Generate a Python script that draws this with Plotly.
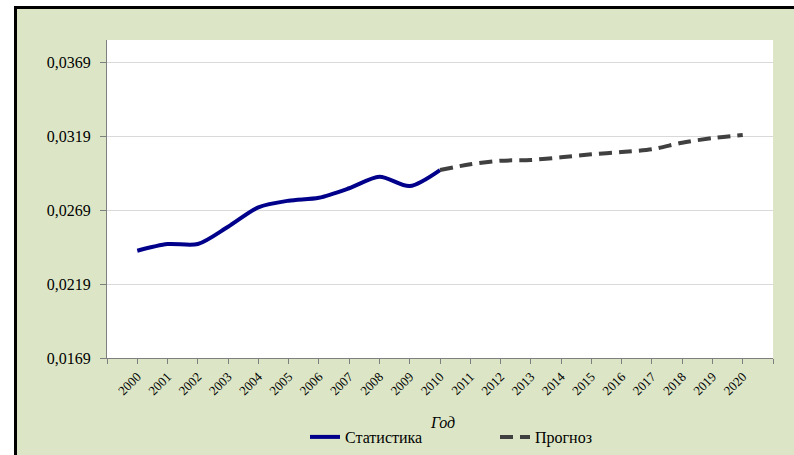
import plotly.graph_objects as go

years_stat = list(range(2000, 2011))
stat_values = [0.02415, 0.0246, 0.0246, 0.02577, 0.02708, 0.02753, 0.02773, 0.02837, 0.02915, 0.02852, 0.0296]
years_fore = list(range(2010, 2021))
fore_values = [0.0296, 0.02999, 0.03023, 0.03028, 0.03046, 0.03066, 0.03082, 0.0310, 0.03145, 0.03176, 0.03197]
y_ticks = [0.0169, 0.0219, 0.0269, 0.0319, 0.0369]
x_ticks = list(range(1999, 2022))
x_labels = ["" if (y < 2000 or y > 2020) else str(y) for y in x_ticks]

SERIF = "Liberation Serif, Times New Roman, serif"
GREEN = "#dce6c6"
fig = go.Figure()
fig.add_trace(go.Scatter(x=years_stat, y=stat_values, mode="lines", name="Статистика",
                         line=dict(color="#00008b", width=4, shape="spline", smoothing=0.8)))
fig.add_trace(go.Scatter(x=years_fore, y=fore_values, mode="lines", name="Прогноз",
                         line=dict(color="#404040", width=4, dash="13px,7px", shape="spline", smoothing=0.8)))

L, R, T, B = 107, 21, 40, 97
W, H = 794, 455
pw, ph = W - L - R, H - T - B
def px(x): return (x - L) / pw
def py(y): return (H - B - y) / ph

shapes = [
    dict(type="rect", xref="paper", yref="paper", x0=px(0), x1=px(W), y0=py(6), y1=py(0), fillcolor="white", line_width=0, layer="below"),
    dict(type="rect", xref="paper", yref="paper", x0=px(0), x1=px(14), y0=py(H), y1=py(0), fillcolor="white", line_width=0, layer="below"),
    dict(type="rect", xref="paper", yref="paper", x0=px(14), x1=px(W), y0=py(9), y1=py(6), fillcolor="black", line_width=0, layer="below"),
    dict(type="rect", xref="paper", yref="paper", x0=px(14), x1=px(17), y0=py(H), y1=py(6), fillcolor="black", line_width=0, layer="below"),
]

fig.update_layout(
    width=W, height=H,
    margin=dict(l=L, r=R, t=T, b=B, autoexpand=False),
    paper_bgcolor=GREEN, plot_bgcolor="white",
    separators=", ",
    font=dict(family=SERIF, size=13, color="black"),
    shapes=shapes,
    showlegend=True,
    legend=dict(orientation="h", x=px(305), xanchor="left", y=py(437), yanchor="middle",
                entrywidth=145, font=dict(family=SERIF, size=16), bgcolor="rgba(0,0,0,0)"),
    annotations=[dict(text="<i>Год</i>", xref="paper", yref="paper", x=px(442), y=py(422),
                      xanchor="center", yanchor="middle",
                      showarrow=False, font=dict(family=SERIF, size=16))],
    xaxis=dict(range=[1999, 2021], tickvals=x_ticks, ticktext=x_labels, tickangle=-45,
               showgrid=False, zeroline=False, showline=True, linecolor="#7f7f7f", linewidth=1,
               ticks="outside", ticklen=5, tickcolor="#7f7f7f", automargin=False,
               tickfont=dict(family=SERIF, size=13)),
    yaxis=dict(range=[0.0169, 0.0169 + 318 / 74 * 0.005], tickvals=y_ticks, tickformat=".4f",
               showgrid=True, gridcolor="#d9d9d9", gridwidth=1, zeroline=False,
               showline=True, linecolor="#7f7f7f", linewidth=1, automargin=False,
               ticks="outside", ticklen=6, tickcolor="#7f7f7f", ticklabelstandoff=6,
               tickfont=dict(family=SERIF, size=16)),
)
fig.write_html("out.html")
